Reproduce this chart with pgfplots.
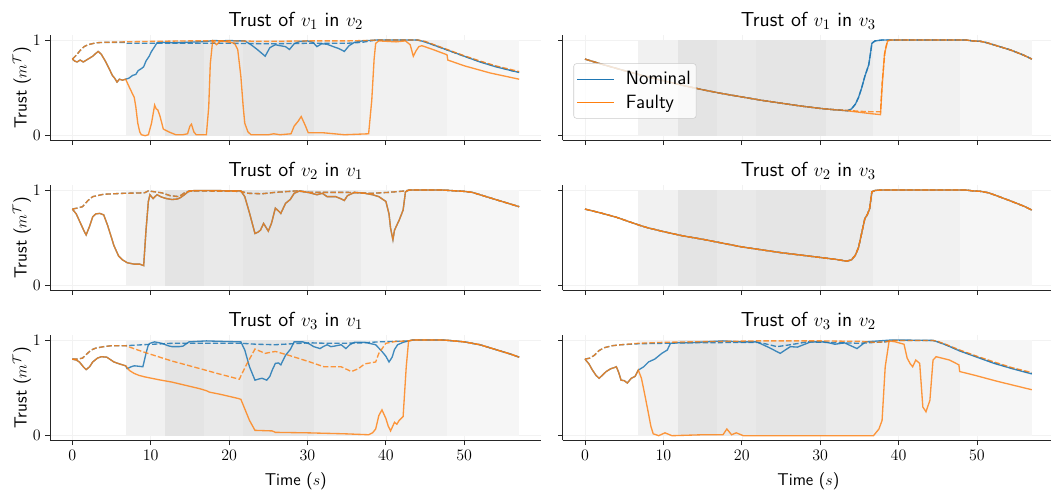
\documentclass[border=0pt]{standalone}
\usepackage{pgfplots}
\pgfplotsset{compat=1.18}
\definecolor{cB}{HTML}{1F77B4}
\definecolor{cO}{HTML}{FF7F0E}
\definecolor{bA}{gray}{0.945}
\definecolor{bB}{gray}{0.895}
\definecolor{bC}{gray}{0.915}
\definecolor{bD}{gray}{0.90}
\definecolor{bE}{gray}{0.92}
\definecolor{bF}{gray}{0.945}
\definecolor{bG}{gray}{0.965}
\pgfplotsset{
  base/.style={scale only axis, width=368.6pt, height=79pt,
    xmin=-2.85, xmax=59.85, ymin=-0.05, ymax=1.05,
    axis x line*=bottom, axis y line*=left,
    xtick={0,10,...,50}, ytick={0,1},
    tick align=outside, major tick length=3.5pt,
    grid=major, grid style={line width=0.4pt, black!5},
    axis line style={black!85, line width=0.6pt},
    tick style={black!85, line width=0.6pt},
    tick label style={font=\fontsize{12}{14}\selectfont},
    every axis title/.style={at={(axis description cs:0.5,1)}, anchor=base, yshift=6.15pt, font=\sffamily\fontsize{15.2}{18}\selectfont},
    every axis x label/.style={at={(axis description cs:0.5,-0.432)}, anchor=base, font=\sffamily\fontsize{12.8}{15}\selectfont},
    every axis y label/.style={at={(axis description cs:-0.0474,0.5)}, rotate=90, anchor=base, font=\sffamily\fontsize{13.2}{15}\selectfont},
  },
  nom/.style={color=cB, line width=1pt, opacity=0.85},
  fau/.style={color=cO, line width=1pt, opacity=0.8},
  dsh/.style={dash pattern=on 4pt off 1.7pt},
}
\newcommand{\bands}{%
\addplot[draw=none, fill=bA, forget plot] coordinates {(6.8,1)(11.8,1)} \closedcycle;
\addplot[draw=none, fill=bB, forget plot] coordinates {(11.8,1)(16.8,1)} \closedcycle;
\addplot[draw=none, fill=bC, forget plot] coordinates {(16.8,1)(21.8,1)} \closedcycle;
\addplot[draw=none, fill=bD, forget plot] coordinates {(21.8,1)(30.8,1)} \closedcycle;
\addplot[draw=none, fill=bE, forget plot] coordinates {(30.8,1)(36.8,1)} \closedcycle;
\addplot[draw=none, fill=bF, forget plot] coordinates {(36.8,1)(47.8,1)} \closedcycle;
\addplot[draw=none, fill=bG, forget plot] coordinates {(47.8,1)(57,1)} \closedcycle;
}
\begin{document}
\begin{tikzpicture}
% ---------- Row 1 left: v1 in v2
\begin{axis}[base, at={(37.5pt,262.875pt)}, anchor=south west, xticklabels={},
  title={Trust of $v_1$ in $v_2$}, ylabel={Trust ($m^{\mathcal{T}}$)}]
\bands
\addplot[nom, forget plot] coordinates {(0,0.80)(0.3,0.78)(0.6,0.77)(1.0,0.79)(1.4,0.77)(1.8,0.79)(2.2,0.81)(2.6,0.83)(3.0,0.86)(3.3,0.88)(3.7,0.85)(4.2,0.78)(4.7,0.70)(5.1,0.63)(5.4,0.60)(5.7,0.56)(6.0,0.59)(6.4,0.58)(6.8,0.59)
(7.2,0.60)(7.7,0.63)(8.1,0.64)(8.4,0.68)(8.8,0.70)(9.1,0.72)(9.4,0.78)(9.8,0.83)(10.1,0.88)(10.5,0.93)(10.8,0.97)(11.5,0.975)(13,0.97)(14.5,0.975)(16,0.98)(17.2,0.985)(18,0.995)(19,0.99)(20,0.995)(21,0.99)(22,0.99)(22.8,0.95)(23.6,0.90)(24.6,0.83)(25.2,0.92)(25.9,0.95)(26.5,0.94)(27.2,0.93)(27.7,0.90)(28.3,0.96)(29,0.985)(30,0.99)(30.7,0.975)(31.2,0.93)(31.8,0.96)(32.5,0.955)(33.3,0.93)(34.0,0.91)(34.7,0.88)(35.3,0.94)(36,0.975)(37,0.99)(38,0.995)(39,1.0)(44,1.0)(45,0.98)(46,0.95)(48,0.89)(50,0.83)(52,0.77)(54,0.72)(56,0.68)(57,0.66)};
\addplot[nom, dsh, forget plot] coordinates {(0,0.80)(0.5,0.84)(1,0.89)(1.5,0.93)(2,0.95)(2.5,0.96)(3,0.97)(4,0.975)(6.8,0.975)(7,0.965)(10,0.965)(15,0.965)(20,0.965)(25,0.96)(30,0.965)(35,0.965)(37,0.975)(38,0.99)(39,1.0)(44,1.0)(45,0.98)(46,0.95)(48,0.89)(50,0.83)(52,0.775)(54,0.725)(56,0.68)(57,0.665)};
\addplot[fau, forget plot] coordinates {(0,0.80)(0.3,0.78)(0.6,0.77)(1.0,0.79)(1.4,0.77)(1.8,0.79)(2.2,0.81)(2.6,0.83)(3.0,0.86)(3.3,0.88)(3.7,0.85)(4.2,0.78)(4.7,0.70)(5.1,0.63)(5.4,0.60)(5.7,0.56)(6.0,0.59)(6.4,0.58)(6.8,0.59)
(7.25,0.51)(7.6,0.45)(7.9,0.40)(8.1,0.30)(8.35,0.13)(8.6,0.04)(8.8,0.01)(9.3,0.0)(9.7,0.01)(10.1,0.13)(10.5,0.32)(10.7,0.28)(10.9,0.27)(11.2,0.20)(11.6,0.07)(12.3,0.04)(13.2,0.01)(14.1,0.01)(14.7,0.02)(15.0,0.10)(15.2,0.12)(15.5,0.04)(15.8,0.01)(17.1,0.01)(17.4,0.3)(17.6,0.75)(17.9,0.99)(18.4,0.95)(18.9,0.99)(19.8,0.98)(20.7,0.965)(21.1,0.90)(21.5,0.62)(21.8,0.3)(22.0,0.13)(22.4,0.04)(22.8,0.01)(25.0,0.01)(25.7,0.02)(26.5,0.01)(27.9,0.02)(28.3,0.10)(28.8,0.15)(29.2,0.20)(29.7,0.11)(30.1,0.03)(32.1,0.03)(34.7,0.01)(37.8,0.02)(38.2,0.37)(38.5,0.8)(38.7,0.965)(39.1,0.99)(41.3,0.98)(42.5,0.99)(43.1,0.95)(43.5,0.83)(43.8,0.88)(44.2,0.93)(44.6,0.94)(46,0.9)(47.8,0.845)(47.9,0.79)(50,0.73)(53.3,0.655)(57,0.59)};
\addplot[fau, dsh, forget plot] coordinates {(0,0.80)(0.5,0.84)(1,0.89)(1.5,0.93)(2,0.95)(2.5,0.96)(3,0.97)(4,0.975)(6.8,0.98)(10,0.985)(15,0.99)(20,0.99)(25,0.985)(30,0.99)(35,0.99)(38,0.995)(39,1.0)(44,1.0)(45,0.985)(46,0.955)(48,0.895)(50,0.835)(52,0.78)(54,0.73)(56,0.69)(57,0.67)};
\end{axis}
% ---------- Row 1 right: v1 in v3
\begin{axis}[base, at={(422.0pt,262.875pt)}, anchor=south west, xticklabels={}, yticklabels={},
  title={Trust of $v_1$ in $v_3$},
  legend style={at={(0.022,0.47)}, anchor=west, draw=black!20, rounded corners=2pt, fill=white, fill opacity=0.8, text opacity=1, draw opacity=1, font=\sffamily\fontsize{14.4}{17}\selectfont, inner xsep=2pt, inner ysep=4pt, column sep=6pt, row sep=2pt},
  legend cell align=left,
  legend image code/.code={\draw[#1, opacity=1, line width=1.1pt] (0pt,0pt) -- (28pt,0pt);}]
\bands
\addplot[nom] coordinates {(0,0.80)(2,0.75)(5,0.68)(7.5,0.625)(10,0.575)(12.5,0.525)(15,0.48)(17.5,0.44)(20,0.405)(22.5,0.37)(25,0.34)(27.5,0.31)(30,0.285)(32,0.27)(33.5,0.26)(34,0.28)(34.5,0.33)(34.9,0.40)(35.3,0.50)(35.7,0.62)(36.2,0.74)(36.4,0.85)(36.6,0.965)(37,0.99)(38,1.0)(48.5,1.0)(49.5,0.99)(50.5,0.985)(51.3,0.97)(52.5,0.94)(54.3,0.895)(56,0.84)(57,0.80)};
\addlegendentry{Nominal}
\addplot[fau] coordinates {(0,0.80)(2,0.75)(5,0.68)(7.5,0.625)(10,0.575)(12.5,0.525)(15,0.48)(17.5,0.44)(20,0.405)(22.5,0.37)(25,0.34)(27.5,0.31)(30,0.285)(32,0.27)(33.5,0.26)(35,0.245)(36.5,0.23)(37.7,0.22)(37.9,0.5)(38.2,0.85)(38.6,0.99)(39,1.0)(48.5,1.0)(49.5,0.99)(50.5,0.985)(51.3,0.97)(52.5,0.94)(54.3,0.895)(56,0.84)(57,0.80)};
\addlegendentry{Faulty}
\addplot[nom, dsh, forget plot] coordinates {(0,0.80)(2,0.75)(5,0.68)(7.5,0.625)(10,0.575)(12.5,0.525)(15,0.48)(17.5,0.44)(20,0.405)(22.5,0.37)(25,0.34)(27.5,0.31)(30,0.285)(32,0.27)(33.5,0.262)(34,0.28)(34.5,0.33)(34.9,0.40)(35.3,0.50)(35.7,0.62)(36.2,0.74)(36.4,0.85)(36.6,0.965)(37,0.99)(38,1.0)(48.5,1.0)(49.5,0.99)(50.5,0.985)(51.3,0.97)(52.5,0.94)(54.3,0.895)(56,0.84)(57,0.80)};
\addplot[fau, dsh, forget plot] coordinates {(0,0.80)(2,0.75)(5,0.68)(7.5,0.625)(10,0.575)(12.5,0.525)(15,0.48)(17.5,0.44)(20,0.405)(22.5,0.37)(25,0.34)(27.5,0.31)(30,0.285)(32,0.27)(33.5,0.265)(35,0.255)(36.5,0.25)(37.7,0.25)(37.9,0.55)(38.3,0.9)(38.6,0.99)(39,1.0)(48.5,1.0)(49.5,0.99)(50.5,0.985)(51.3,0.97)(52.5,0.94)(54.3,0.895)(56,0.84)(57,0.80)};
\end{axis}
% ---------- Row 2 left: v2 in v1
\begin{axis}[base, at={(37.5pt,150.375pt)}, anchor=south west, xticklabels={},
  title={Trust of $v_2$ in $v_1$}, ylabel={Trust ($m^{\mathcal{T}}$)}]
\bands
\addplot[nom, forget plot] coordinates {(0,0.80)(0.5,0.75)(1.0,0.66)(1.5,0.57)(1.76,0.53)(2.2,0.62)(2.6,0.72)(3.0,0.75)(3.5,0.755)(4.0,0.74)(4.5,0.63)(5.0,0.50)(5.3,0.42)(5.9,0.31)(6.4,0.27)(7.0,0.24)(7.9,0.225)(8.6,0.225)(9.1,0.21)(9.4,0.58)(9.7,0.88)(9.9,0.95)(10.3,0.91)(10.8,0.95)(11.4,0.925)(12.0,0.91)(12.7,0.90)(13.4,0.905)(13.8,0.92)(14.3,0.95)(14.9,0.99)(16,0.995)(18,0.995)(20,0.99)(21.5,0.99)(22,0.93)(22.6,0.76)(23.3,0.545)(23.7,0.56)(24.0,0.58)(24.4,0.65)(24.7,0.61)(25.0,0.57)(25.4,0.65)(25.9,0.81)(26.3,0.78)(26.6,0.755)(27.2,0.86)(27.8,0.9)(28.3,0.965)(29,0.99)(30.3,0.97)(31.2,0.95)(31.9,0.965)(32.5,0.93)(33.6,0.93)(34.2,0.91)(34.7,0.89)(35.1,0.94)(36,0.975)(37.3,0.965)(38.3,0.95)(39.1,0.93)(40,0.88)(40.4,0.75)(40.6,0.6)(40.9,0.48)(41.1,0.58)(41.7,0.685)(42.2,0.79)(42.5,0.98)(43,1.0)(47,1.0)(48,0.995)(50,0.985)(51,0.975)(52,0.95)(54,0.9)(56,0.85)(57,0.825)};
\addplot[nom, dsh, forget plot] coordinates {(0,0.80)(0.6,0.81)(1.3,0.825)(2,0.89)(2.6,0.93)(4,0.955)(6.6,0.965)(9.2,0.97)(9.7,0.99)(11.4,0.97)(12.5,0.94)(13.6,0.93)(14.5,0.98)(15.4,0.99)(21.5,0.985)(22.4,0.965)(24.2,0.96)(25.9,0.975)(28.6,0.99)(30.3,0.975)(33,0.975)(35,0.975)(38.2,0.965)(40.4,0.975)(42.5,0.99)(43,1.0)(47,1.0)(48,0.995)(50,0.985)(51,0.975)(52,0.95)(54,0.9)(56,0.85)(57,0.825)};
\addplot[fau, forget plot] coordinates {(0,0.80)(0.5,0.75)(1.0,0.66)(1.5,0.57)(1.76,0.53)(2.2,0.62)(2.6,0.72)(3.0,0.75)(3.5,0.755)(4.0,0.74)(4.5,0.63)(5.0,0.50)(5.3,0.42)(5.9,0.31)(6.4,0.27)(7.0,0.24)(7.9,0.225)(8.6,0.225)(9.1,0.21)(9.4,0.58)(9.7,0.88)(9.9,0.95)(10.3,0.91)(10.8,0.95)(11.4,0.925)(12.0,0.91)(12.7,0.90)(13.4,0.905)(13.8,0.92)(14.3,0.95)(14.9,0.99)(16,0.995)(18,0.995)(20,0.99)(21.5,0.99)(22,0.93)(22.6,0.76)(23.3,0.545)(23.7,0.56)(24.0,0.58)(24.4,0.65)(24.7,0.61)(25.0,0.57)(25.4,0.65)(25.9,0.81)(26.3,0.78)(26.6,0.755)(27.2,0.86)(27.8,0.9)(28.3,0.965)(29,0.99)(30.3,0.97)(31.2,0.95)(31.9,0.965)(32.5,0.93)(33.6,0.93)(34.2,0.91)(34.7,0.89)(35.1,0.94)(36,0.975)(37.3,0.965)(38.3,0.95)(39.1,0.93)(40,0.88)(40.4,0.75)(40.6,0.6)(40.9,0.48)(41.1,0.58)(41.7,0.685)(42.2,0.79)(42.5,0.98)(43,1.0)(47,1.0)(48,0.995)(50,0.985)(51,0.975)(52,0.95)(54,0.9)(56,0.85)(57,0.825)};
\addplot[fau, dsh, forget plot] coordinates {(0,0.80)(0.6,0.81)(1.3,0.825)(2,0.89)(2.6,0.93)(4,0.955)(6.6,0.965)(9.2,0.97)(9.7,0.99)(11.4,0.97)(12.5,0.94)(13.6,0.93)(14.5,0.98)(15.4,0.99)(21.5,0.985)(22.4,0.965)(24.2,0.96)(25.9,0.975)(28.6,0.99)(30.3,0.975)(33,0.975)(35,0.975)(38.2,0.965)(40.4,0.975)(42.5,0.99)(43,1.0)(47,1.0)(48,0.995)(50,0.985)(51,0.975)(52,0.95)(54,0.9)(56,0.85)(57,0.825)};
\end{axis}
% ---------- Row 2 right: v2 in v3
\begin{axis}[base, at={(422.0pt,150.375pt)}, anchor=south west, xticklabels={}, yticklabels={},
  title={Trust of $v_2$ in $v_3$}]
\bands
\addplot[nom, forget plot] coordinates {(0,0.80)(2,0.76)(4,0.715)(6.8,0.635)(8,0.605)(10,0.565)(12.5,0.52)(15,0.485)(17.5,0.445)(20,0.405)(22.5,0.375)(25,0.345)(27.5,0.32)(30,0.295)(32,0.275)(33.4,0.255)(34,0.27)(34.5,0.32)(34.9,0.40)(35.3,0.55)(35.7,0.70)(36.0,0.74)(36.3,0.80)(36.6,0.98)(37,0.995)(38,1.0)(48.5,1.0)(49.5,0.99)(50.5,0.985)(51.5,0.97)(52.5,0.94)(54.3,0.885)(56,0.83)(57,0.79)};
\addplot[nom, dsh, forget plot] coordinates {(0,0.80)(2,0.76)(4,0.715)(6.8,0.635)(8,0.605)(10,0.565)(12.5,0.52)(15,0.485)(17.5,0.445)(20,0.405)(22.5,0.375)(25,0.345)(27.5,0.32)(30,0.295)(32,0.275)(33.4,0.258)(34,0.27)(34.5,0.32)(34.9,0.40)(35.3,0.55)(35.7,0.70)(36.0,0.74)(36.3,0.80)(36.6,0.98)(37,0.995)(38,1.0)(48.5,1.0)(49.5,0.99)(50.5,0.985)(51.5,0.97)(52.5,0.94)(54.3,0.885)(56,0.83)(57,0.79)};
\addplot[fau, forget plot] coordinates {(0,0.80)(2,0.76)(4,0.715)(6.8,0.635)(8,0.605)(10,0.565)(12.5,0.52)(15,0.485)(17.5,0.445)(20,0.405)(22.5,0.375)(25,0.345)(27.5,0.32)(30,0.295)(32,0.275)(33.4,0.255)(34,0.27)(34.5,0.32)(34.9,0.40)(35.3,0.55)(35.7,0.70)(36.0,0.74)(36.3,0.80)(36.6,0.98)(37,0.995)(38,1.0)(48.5,1.0)(49.5,0.99)(50.5,0.985)(51.5,0.97)(52.5,0.94)(54.3,0.885)(56,0.83)(57,0.79)};
\addplot[fau, dsh, forget plot] coordinates {(0,0.80)(2,0.76)(4,0.715)(6.8,0.635)(8,0.605)(10,0.565)(12.5,0.52)(15,0.485)(17.5,0.445)(20,0.405)(22.5,0.375)(25,0.345)(27.5,0.32)(30,0.295)(32,0.275)(33.4,0.258)(34,0.27)(34.5,0.32)(34.9,0.40)(35.3,0.55)(35.7,0.70)(36.0,0.74)(36.3,0.80)(36.6,0.98)(37,0.995)(38,1.0)(48.5,1.0)(49.5,0.99)(50.5,0.985)(51.5,0.97)(52.5,0.94)(54.3,0.885)(56,0.83)(57,0.79)};
\end{axis}
% ---------- Row 3 left: v3 in v1
\begin{axis}[base, at={(37.5pt,37.875pt)}, anchor=south west,
  title={Trust of $v_3$ in $v_1$}, ylabel={Trust ($m^{\mathcal{T}}$)}, xlabel={Time ($s$)}]
\bands
\addplot[nom, forget plot] coordinates {(0,0.80)(0.5,0.79)(0.9,0.77)(1.4,0.72)(1.76,0.69)(2.2,0.72)(2.6,0.77)(3.2,0.81)(3.7,0.825)(4.4,0.82)(5.3,0.77)(6.0,0.75)(6.8,0.73)
(7.0,0.70)(7.5,0.72)(7.9,0.73)(8.5,0.725)(9.0,0.72)(9.4,0.86)(9.7,0.95)(9.9,0.965)(10.5,0.98)(11.4,0.965)(12.2,0.94)(12.7,0.93)(13.6,0.93)(14.1,0.935)(14.9,0.98)(16,0.985)(17.1,0.99)(19,0.985)(21.5,0.98)(22,0.895)(22.6,0.72)(23.3,0.58)(23.7,0.59)(24.2,0.60)(24.8,0.58)(25.2,0.62)(25.5,0.685)(25.9,0.755)(26.3,0.76)(26.6,0.74)(27.2,0.84)(27.8,0.9)(28.3,0.98)(29.4,0.98)(30.2,0.96)(30.8,0.93)(31.6,0.91)(32.0,0.93)(32.5,0.95)(33.0,0.93)(33.4,0.935)(34.3,0.95)(34.9,0.91)(35.4,0.95)(36,0.975)(37.3,0.975)(38.7,0.95)(39.5,0.88)(40.0,0.83)(40.4,0.77)(40.8,0.82)(41.1,0.9)(41.5,0.95)(42.2,0.975)(42.9,0.99)(43.5,1.0)(47,1.0)(48,0.995)(50,0.98)(52,0.95)(54,0.9)(56,0.85)(57,0.82)};
\addplot[nom, dsh, forget plot] coordinates {(0,0.80)(0.6,0.80)(1.3,0.81)(1.8,0.85)(2.4,0.895)(3,0.915)(4,0.93)(5,0.94)(6.8,0.94)(9,0.95)(12.7,0.965)(17,0.965)(21.5,0.965)(23.5,0.955)(25.9,0.95)(28,0.96)(30.3,0.97)(32.5,0.965)(34.7,0.965)(37,0.97)(39.1,0.98)(41,0.985)(42.9,0.99)(43.5,1.0)(47,1.0)(48,0.995)(50,0.98)(52,0.95)(54,0.9)(56,0.85)(57,0.82)};
\addplot[fau, forget plot] coordinates {(0,0.80)(0.5,0.79)(0.9,0.77)(1.4,0.72)(1.76,0.69)(2.2,0.72)(2.6,0.77)(3.2,0.81)(3.7,0.825)(4.4,0.82)(5.3,0.77)(6.0,0.75)(6.8,0.73)
(7.3,0.68)(7.9,0.65)(8.5,0.63)(9.2,0.615)(11,0.585)(12.7,0.56)(14.5,0.525)(16.3,0.49)(17.1,0.47)(17.5,0.455)(19,0.43)(21.1,0.39)(21.5,0.38)(22,0.28)(22.6,0.16)(23.3,0.056)(25.5,0.05)(25.9,0.035)(30,0.03)(34.7,0.02)(37.8,0.01)(38.3,0.03)(38.7,0.07)(39.1,0.21)(39.5,0.27)(40.0,0.18)(40.3,0.10)(40.6,0.05)(41.1,0.14)(41.4,0.12)(41.7,0.16)(42.2,0.2)(42.6,0.72)(42.9,0.99)(43.5,1.0)(47,1.0)(48,0.995)(50,0.98)(52,0.95)(54,0.9)(56,0.85)(57,0.82)};
\addplot[fau, dsh, forget plot] coordinates {(0,0.80)(0.6,0.80)(1.3,0.81)(1.8,0.85)(2.4,0.895)(3,0.915)(4,0.93)(5,0.94)(6.8,0.94)(7.5,0.92)(8.35,0.895)(10,0.85)(12.7,0.78)(14.5,0.74)(16.3,0.70)(18.5,0.65)(21.3,0.59)(22.2,0.74)(23.3,0.905)(24.6,0.86)(25.9,0.88)(28,0.83)(30.3,0.77)(32.1,0.72)(34.3,0.72)(35.6,0.67)(36.5,0.70)(37.3,0.75)(38.7,0.77)(39.1,0.86)(40.0,0.965)(41.3,0.985)(42.9,0.99)(43.5,1.0)(47,1.0)(48,0.995)(50,0.98)(52,0.95)(54,0.9)(56,0.85)(57,0.82)};
\end{axis}
% ---------- Row 3 right: v3 in v2
\begin{axis}[base, at={(422.0pt,37.875pt)}, anchor=south west, yticklabels={},
  title={Trust of $v_3$ in $v_2$}, xlabel={Time ($s$)}]
\bands
\addplot[nom, forget plot] coordinates {(0,0.80)(0.5,0.75)(0.95,0.685)(1.4,0.63)(1.8,0.60)(2.2,0.63)(2.7,0.67)(3.3,0.70)(3.7,0.71)(4.0,0.72)(4.3,0.66)(4.6,0.58)(5.0,0.575)(5.4,0.55)(5.9,0.60)(6.4,0.62)(6.8,0.685)
(7.5,0.72)(8.1,0.77)(8.9,0.80)(9.8,0.86)(10.5,0.895)(10.9,0.965)(11.5,0.97)(13.3,0.97)(15.4,0.98)(17.6,0.99)(19.7,0.98)(21.9,0.98)(23.5,0.92)(24.9,0.86)(26.2,0.93)(27.1,0.925)(28.8,0.98)(30.6,0.98)(31.9,0.955)(33.1,0.97)(34.7,0.91)(35.8,0.98)(39.2,1.0)(44.4,0.995)(45,0.98)(46,0.95)(47.8,0.885)(50,0.82)(52.2,0.755)(54.5,0.70)(57,0.645)};
\addplot[nom, dsh, forget plot] coordinates {(0,0.80)(0.6,0.81)(1.2,0.84)(1.8,0.89)(2.5,0.92)(3.5,0.94)(4.6,0.95)(6.8,0.96)(10,0.965)(13.3,0.97)(21.9,0.975)(23,0.96)(24.5,0.93)(26.2,0.95)(28.4,0.98)(35,0.965)(38.3,0.98)(39.2,0.995)(44.4,0.995)(45,0.98)(46,0.95)(47.8,0.89)(50,0.825)(52.2,0.76)(54.5,0.705)(57,0.65)};
\addplot[fau, forget plot] coordinates {(0,0.80)(0.5,0.75)(0.95,0.685)(1.4,0.63)(1.8,0.60)(2.2,0.63)(2.7,0.67)(3.3,0.70)(3.7,0.71)(4.0,0.72)(4.3,0.66)(4.6,0.58)(5.0,0.575)(5.4,0.55)(5.9,0.60)(6.4,0.62)(6.8,0.685)
(7.2,0.60)(7.6,0.44)(8.1,0.23)(8.4,0.10)(8.7,0.02)(9.4,0.0)(10.2,0.03)(11.1,0.0)(15,0.01)(17.6,0.01)(18.1,0.07)(18.7,0.01)(19.3,0.03)(20.2,0.0)(36.8,0.0)(37.5,0.07)(37.9,0.16)(38.3,0.72)(38.8,0.99)(39.6,0.98)(40.7,0.955)(41.1,0.81)(41.5,0.75)(41.8,0.72)(42.2,0.79)(42.7,0.755)(43.1,0.30)(43.5,0.25)(44,0.37)(44.4,0.79)(44.8,0.825)(46.5,0.79)(47.7,0.74)(47.8,0.67)(50,0.625)(52.5,0.57)(55,0.52)(57,0.48)};
\addplot[fau, dsh, forget plot] coordinates {(0,0.80)(0.6,0.81)(1.2,0.84)(1.8,0.89)(2.5,0.92)(3.5,0.94)(4.6,0.95)(6.8,0.965)(10,0.975)(13.3,0.98)(21.9,0.99)(30,0.99)(35,0.985)(37,0.975)(38.3,0.98)(39.2,0.995)(44.4,0.995)(45,0.985)(46,0.955)(47.8,0.895)(50,0.83)(52.2,0.77)(54.5,0.71)(57,0.66)};
\end{axis}
\pgfresetboundingbox
\path[use as bounding box] (0,0) rectangle (788.25pt,368.25pt);
\end{tikzpicture}
\end{document}
